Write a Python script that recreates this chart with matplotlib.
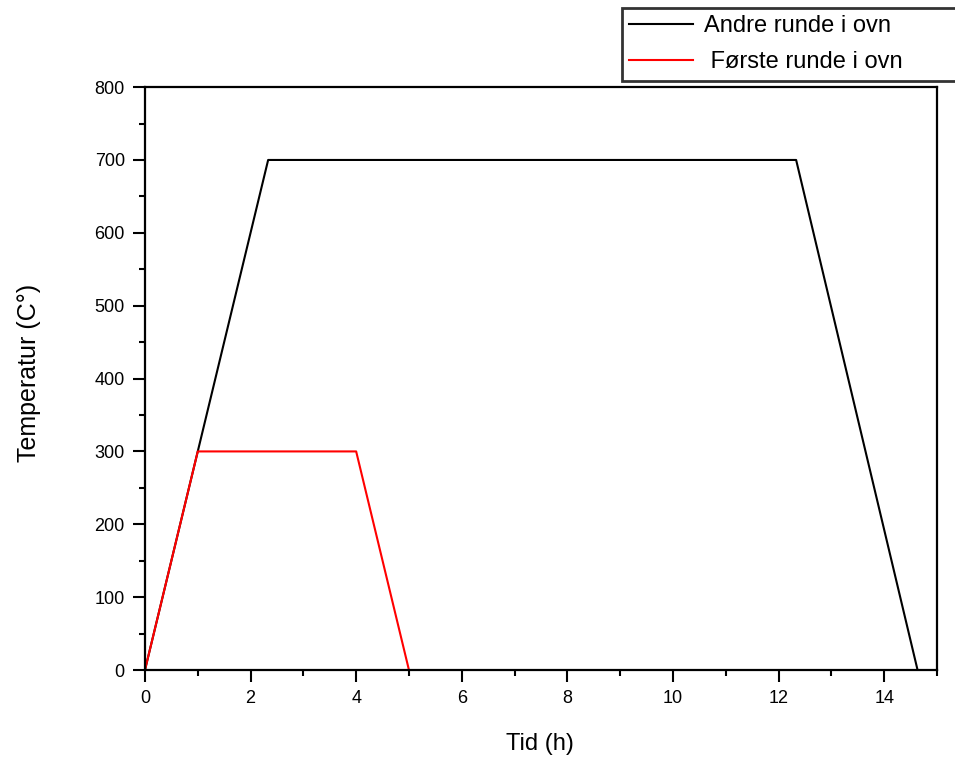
import matplotlib.pyplot as plt
from matplotlib.ticker import MultipleLocator

plt.rcParams['font.family'] = ['Liberation Sans', 'DejaVu Sans']

# andre runde i ovn
tid_andre = [0, 2.333, 12.333, 14.633]
temp_andre = [0, 700, 700, 0]

# første runde i ovn
tid_forste = [0, 1, 4, 5]
temp_forste = [0, 300, 300, 0]

fig = plt.figure(figsize=(9.55, 7.64), dpi=100)
ax = fig.add_axes([0.1518, 0.123, 0.8293, 0.763])

ax.plot(tid_andre, temp_andre, color='black', lw=1.5, label='Andre runde i ovn')
ax.plot(tid_forste, temp_forste, color='red', lw=1.5, label=' Første runde i ovn')

ax.set_xlim(0, 15)
ax.set_ylim(0, 800)
ax.xaxis.set_major_locator(MultipleLocator(2))
ax.xaxis.set_minor_locator(MultipleLocator(1))
ax.yaxis.set_major_locator(MultipleLocator(100))
ax.yaxis.set_minor_locator(MultipleLocator(50))
ax.tick_params(which='both', direction='out', top=False, right=False, width=1.5, labelsize=13)
ax.tick_params(which='major', length=8.5, pad=6)
ax.tick_params(which='minor', length=4.5)
for s in ax.spines.values():
    s.set_linewidth(1.6)

ax.set_xlabel('Tid (h)', fontsize=17)
ax.set_ylabel('Temperatur (C°)', fontsize=18)
ax.xaxis.set_label_coords(0.499, -0.108)
ax.yaxis.set_label_coords(-0.131, 0.51)

leg = fig.legend(loc='upper left', bbox_to_anchor=(0.651, 0.08, 0.40, 0.91),
                 mode='expand', fontsize=17, frameon=True, fancybox=False,
                 handlelength=2.7, borderpad=0.32, labelspacing=0.6,
                 handletextpad=0.45, borderaxespad=0)
leg.get_frame().set_edgecolor('black')
leg.get_frame().set_linewidth(2)

fig.savefig('out.png', dpi=100)
